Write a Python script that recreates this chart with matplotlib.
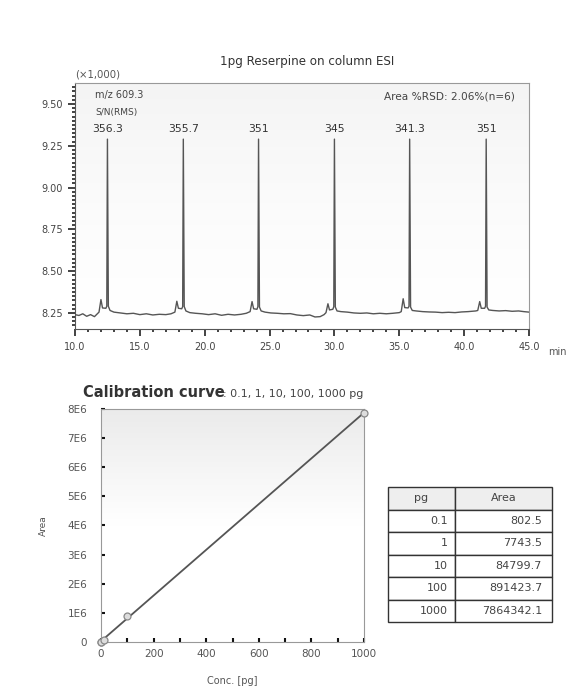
import numpy as np
import matplotlib
matplotlib.use("Agg")
import matplotlib.pyplot as plt
from matplotlib.colors import LinearSegmentedColormap

# chromatogram trace, m/z 609.3 (x1,000) - one row per segment
trace_t = ([10.0, 10.3, 10.6, 10.9, 11.2, 11.5, 11.85, 12.0, 12.12, 12.38, 12.45, 12.5, 12.57, 12.7] +
           [13.0, 13.5, 14.0, 14.5, 15.0, 15.5, 16.0, 16.5, 17.0, 17.4, 17.7, 17.85, 17.97, 18.23, 18.3, 18.35, 18.42, 18.55] +
           [18.85, 19.3, 19.8, 20.3, 20.8, 21.3, 21.8, 22.3, 22.8, 23.2, 23.5, 23.65, 23.77, 24.03, 24.1, 24.15, 24.22, 24.35] +
           [24.65, 25.1, 25.6, 26.1, 26.6, 27.1, 27.6, 28.1, 28.5, 28.9, 29.2, 29.35, 29.5, 29.62, 29.88, 29.95, 30.0, 30.07, 30.2] +
           [30.5, 31.0, 31.5, 32.0, 32.5, 33.0, 33.5, 34.0, 34.5, 35.0, 35.15, 35.3, 35.42, 35.68, 35.75, 35.8, 35.87, 36.0] +
           [36.3, 36.8, 37.3, 37.8, 38.3, 38.8, 39.3, 39.8, 40.3, 40.9, 41.05, 41.2, 41.32, 41.58, 41.65, 41.7, 41.77, 41.9] +
           [42.2, 42.7, 43.2, 43.7, 44.2, 44.6, 45.0])
trace_i = ([8.240, 8.235, 8.245, 8.230, 8.240, 8.228, 8.255, 8.330, 8.280, 8.278, 8.290, 9.290, 8.290, 8.265] +
           [8.255, 8.250, 8.245, 8.248, 8.240, 8.245, 8.238, 8.242, 8.240, 8.245, 8.255, 8.320, 8.278, 8.275, 8.288, 9.290, 8.288, 8.262] +
           [8.252, 8.248, 8.245, 8.240, 8.245, 8.236, 8.242, 8.238, 8.242, 8.248, 8.258, 8.318, 8.275, 8.272, 8.288, 9.290, 8.285, 8.262] +
           [8.255, 8.250, 8.248, 8.245, 8.246, 8.238, 8.234, 8.238, 8.226, 8.228, 8.240, 8.252, 8.305, 8.268, 8.272, 8.288, 9.290, 8.285, 8.262] +
           [8.258, 8.255, 8.250, 8.248, 8.250, 8.245, 8.248, 8.245, 8.248, 8.252, 8.258, 8.335, 8.282, 8.280, 8.290, 9.290, 8.285, 8.265] +
           [8.262, 8.258, 8.256, 8.255, 8.252, 8.254, 8.252, 8.256, 8.258, 8.262, 8.265, 8.318, 8.278, 8.278, 8.290, 9.290, 8.285, 8.268] +
           [8.265, 8.262, 8.264, 8.260, 8.262, 8.258, 8.255])

peak_t = [12.5, 18.35, 24.15, 30.0, 35.8, 41.7]
peak_sn = ["356.3", "355.7", "351", "345", "341.3", "351"]

# calibration data
conc_pg = [0.1, 1, 10, 100, 1000]
area = [802.5, 7743.5, 84799.7, 891423.7, 7864342.1]
conc_labels = ["0.1", "1", "10", "100", "1000"]
area_labels = ["802.5", "7743.5", "84799.7", "891423.7", "7864342.1"]
area_ticks = [0, 1e6, 2e6, 3e6, 4e6, 5e6, 6e6, 7e6, 8e6]
area_tick_labels = ["0", "1E6", "2E6", "3E6", "4E6", "5E6", "6E6", "7E6", "8E6"]

plt.rcParams['font.family'] = ['DejaVu Sans']
fig = plt.figure(figsize=(5.73, 6.88), dpi=100)
fig.patch.set_facecolor('white')

grad = LinearSegmentedColormap.from_list('g', ['#ffffff', '#ffffff', '#ebebeb'])

# ---- chromatogram ----
ax1 = fig.add_axes([0.1309, 0.5218, 0.7923, 0.3576])
ax1.imshow(np.linspace(0, 1, 100)[:, None] ** 1.5, extent=[0, 1, 0, 1], transform=ax1.transAxes,
           aspect='auto', cmap=LinearSegmentedColormap.from_list('g1', ['#ffffff', '#f4f4f4']),
           origin='lower', zorder=0)
ax1.plot(trace_t, trace_i, color='#555555', lw=1.0, zorder=2)
for t, s in zip(peak_t, peak_sn):
    ax1.text(t, 9.35, s, ha='center', va='center', fontsize=7.8, color='#333333')
ax1.set_xlim(10, 45)
ax1.set_ylim(8.154, 9.626)
ax1.set_xticks(np.arange(10, 46, 5))
ax1.set_xticks(np.arange(10, 46, 1), minor=True)
ax1.set_yticks([8.25, 8.50, 8.75, 9.00, 9.25, 9.50])
ax1.set_yticks(np.arange(8.175, 9.62, 0.025), minor=True)
ax1.xaxis.set_major_formatter(matplotlib.ticker.FormatStrFormatter('%.1f'))
ax1.yaxis.set_major_formatter(matplotlib.ticker.FormatStrFormatter('%.2f'))
ax1.tick_params(axis='both', which='major', direction='out', length=5, width=1.2,
                labelsize=7, labelcolor='#444444', color='#222222')
ax1.tick_params(axis='both', which='minor', direction='out', length=2.5, width=1.2, color='#222222')
ax1.tick_params(axis='x', pad=4)
for side in ['top', 'right']:
    ax1.spines[side].set_color('#999999')
for side in ['left', 'bottom']:
    ax1.spines[side].set_color('#555555')
ax1.text(0.044, 0.951, "m/z 609.3", transform=ax1.transAxes, fontsize=7, color='#444444', va='center')
ax1.text(0.044, 0.878, "S/N(RMS)", transform=ax1.transAxes, fontsize=6.5, color='#444444', va='center')
ax1.text(0.969, 0.947, "Area %RSD: 2.06%(n=6)", transform=ax1.transAxes, fontsize=7.6,
         color='#444444', ha='right', va='center')
fig.text(0.131, 0.891, "(×1,000)", fontsize=7.3, color='#555555', va='center')
fig.text(0.536, 0.91, "1pg Reserpine on column ESI", fontsize=8.6, color='#333333', ha='center', va='center')
fig.text(0.957, 0.488, "min", fontsize=7, color='#555555', va='center')

# ---- calibration curve ----
ax2 = fig.add_axes([0.1763, 0.0669, 0.4590, 0.3387])
ax2.imshow(np.linspace(0, 1, 100)[:, None], extent=[0, 1, 0, 1], transform=ax2.transAxes,
           aspect='auto', cmap=grad, origin='lower', zorder=0)
slope, intercept = np.polyfit(conc_pg, area, 1)
ax2.plot([0, 1000], [max(intercept, 0), slope * 1000 + intercept], color='#555555', lw=1.3, zorder=2)
ax2.plot(conc_pg, area, 'o', ms=5, mfc='#dddddd', mec='#888888', mew=0.9, zorder=3, clip_on=False)
ax2.set_xlim(0, 1000)
ax2.set_ylim(0, 8e6)
ax2.set_xticks(np.arange(0, 1001, 200))
ax2.set_xticks(np.arange(0, 1001, 100), minor=True)
ax2.set_yticks(area_ticks)
ax2.set_yticklabels(area_tick_labels)
ax2.tick_params(axis='both', which='both', direction='in', length=3, width=1.5, color='#111111',
                labelsize=7.5, labelcolor='#555555')
ax2.tick_params(axis='y', pad=10)
ax2.tick_params(axis='x', pad=5)
for side in ax2.spines:
    ax2.spines[side].set_color('#999999')
ax2.set_xlabel("Conc. [pg]", fontsize=7, color='#555555', labelpad=12)
ax2.set_ylabel("Area", fontsize=6.5, color='#555555', labelpad=14)
fig.text(0.145, 0.430, "Calibration curve", fontsize=10.5, fontweight='bold', color='#333333', va='center')
fig.text(0.389, 0.428, ": 0.1, 1, 10, 100, 1000 pg", fontsize=8, color='#444444', va='center')

# ---- table ----
ax3 = fig.add_axes([0.677, 0.0959, 0.286, 0.196])
ax3.axis('off')
tbl = ax3.table(cellText=[[c, a] for c, a in zip(conc_labels, area_labels)],
                colLabels=["pg", "Area"], cellLoc='right', colLoc='center',
                colWidths=[67 / 164, 97 / 164], bbox=[0, 0, 1, 1])
tbl.auto_set_font_size(False)
tbl.set_fontsize(8)
for (r, c), cell in tbl.get_celld().items():
    cell.set_edgecolor('#333333')
    cell.set_linewidth(1.0)
    cell.get_text().set_color('#444444')
    if r == 0:
        cell.set_facecolor('#eeeeee')

fig.savefig("out.png", dpi=100)
